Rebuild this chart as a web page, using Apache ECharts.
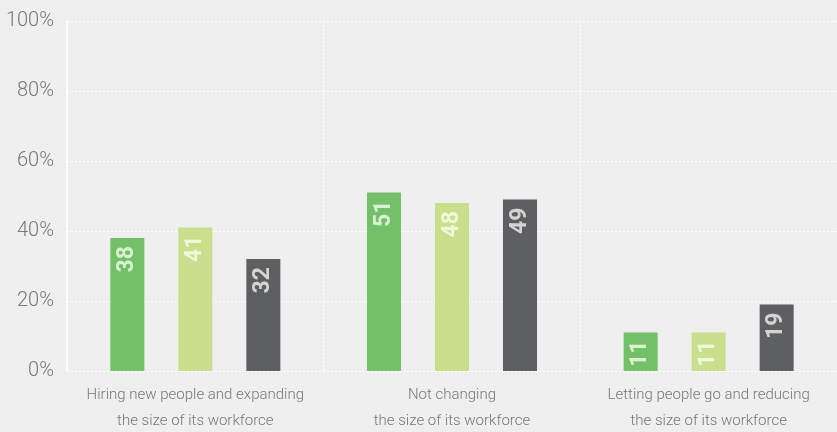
<!DOCTYPE html>
<html>
<head>
<meta charset="utf-8">
<script src="https://cdn.jsdelivr.net/npm/echarts@6/dist/echarts.min.js"></script>
<style>
  html, body { margin: 0; padding: 0; background: #efefef; }
  #chart { width: 837px; height: 432px; }
</style>
</head>
<body>
<div id="chart"></div>
<script>
const categories = [
  "Hiring new people and expanding\nthe size of its workforce",
  "Not changing\nthe size of its workforce",
  "Letting people go and reducing\nthe size of its workforce",
];
const seriesA = [38, 51, 11];
const seriesB = [41, 48, 11];
const seriesC = [32, 49, 19];
const barColors = ["#72c067", "#c9df8b", "#5e5f61"];
const labelColors = ["rgba(235,248,230,0.85)", "rgba(248,252,235,0.85)", "rgba(225,225,225,0.9)"];

const axisFont = "Roboto, 'Liberation Sans Narrow', sans-serif";

const makeSeries = (data, i) => ({
  type: "bar",
  data: data,
  barWidth: 34,
  barGap: "100%",
  itemStyle: { color: barColors[i] },
  label: {
    show: true,
    position: "insideTop",
    rotate: 90,
    align: "right",
    verticalAlign: "middle",
    distance: 8,
    color: labelColors[i],
    fontFamily: axisFont,
    fontWeight: "bold",
    fontSize: 23,
  },
});

const chart = echarts.init(document.getElementById("chart"));
chart.setOption({
  backgroundColor: "#efefef",
  animation: false,
  grid: { left: 67, right: 0, top: 21, bottom: 61, outerBoundsMode: "none" },
  xAxis: {
    type: "category",
    data: categories,
    axisLine: { show: false },
    axisTick: { show: false },
    splitLine: {
      show: true,
      lineStyle: { color: "#ffffff", type: [2, 2], width: 1 },
    },
    axisLabel: {
      interval: 0,
      color: "#777777",
      fontFamily: axisFont,
      fontWeight: 300,
      fontSize: 15,
      lineHeight: 26,
      margin: 11,
    },
  },
  yAxis: {
    type: "value",
    min: 0,
    max: 100,
    interval: 20,
    axisLine: { show: true, lineStyle: { color: "#ffffff", width: 1.5 } },
    axisTick: { show: false },
    splitLine: {
      lineStyle: { color: "#ffffff", type: [2, 2], width: 1 },
    },
    axisLabel: {
      formatter: "{value}%",
      color: "#777777",
      fontFamily: axisFont,
      fontWeight: 300,
      fontSize: 20,
      margin: 13,
    },
  },
  series: [seriesA, seriesB, seriesC].map(makeSeries),
});
</script>
</body>
</html>
